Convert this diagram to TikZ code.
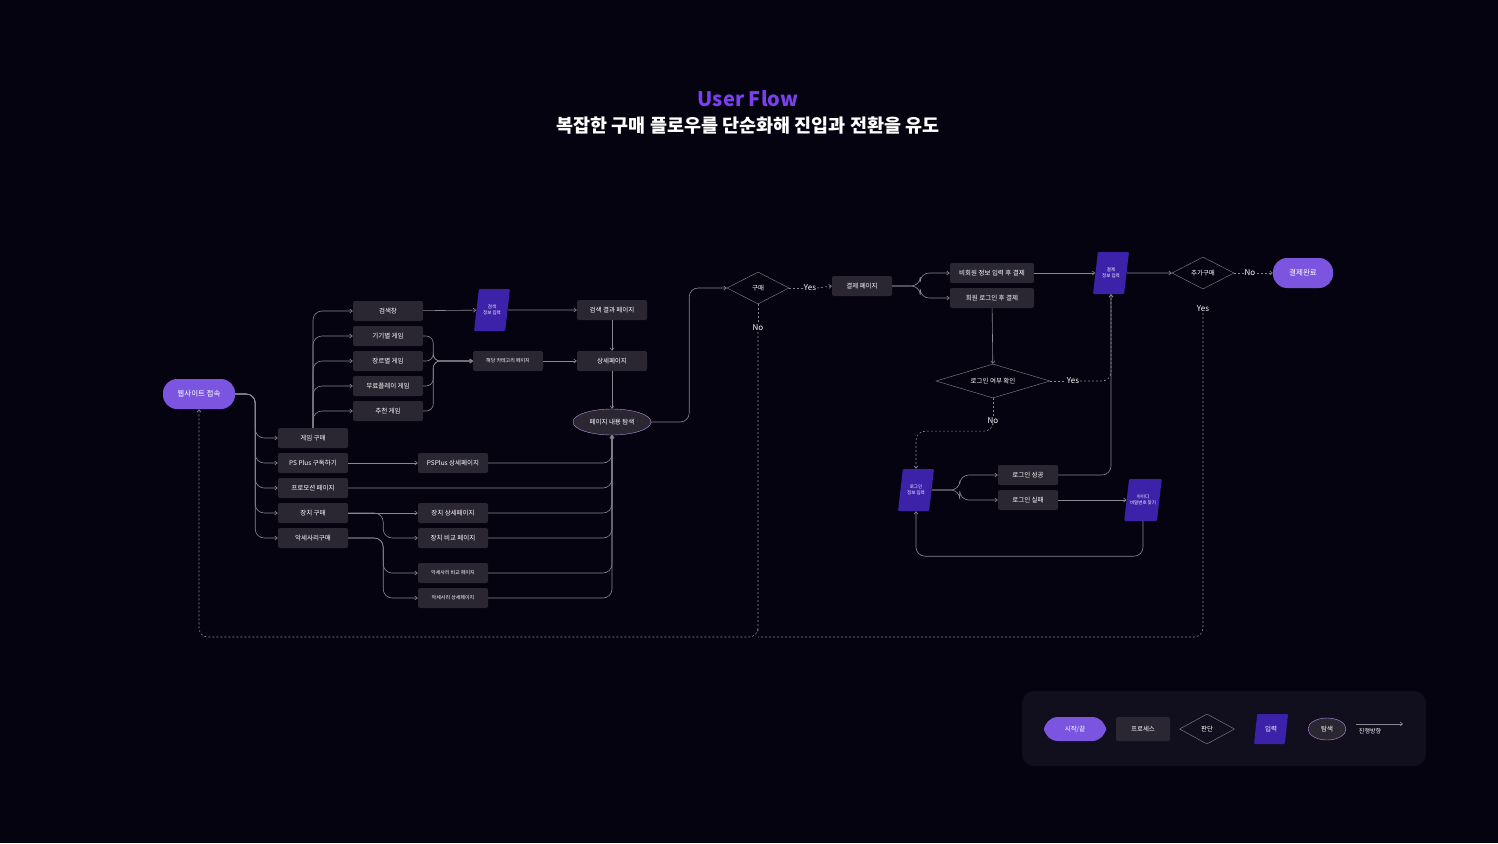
\documentclass[tikz,border=0pt]{standalone}
\usepackage{fontspec}
\setmainfont{Noto Sans CJK KR}
\usetikzlibrary{shapes.geometric,arrows.meta,calc}
\definecolor{bg}{HTML}{05030F}
\definecolor{boxc}{HTML}{2A2733}
\definecolor{startc}{HTML}{7B55E0}
\definecolor{parac}{HTML}{3B22A8}
\definecolor{ellc}{HTML}{B78FE0}
\definecolor{linec}{HTML}{8A8790}
\definecolor{titlec}{HTML}{7B3FF0}
\definecolor{legc}{HTML}{110F1D}
\begin{document}
\begin{tikzpicture}[x=1pt,y=-1pt,
  every node/.style={text=white,font=\fontsize{6.5}{8}\selectfont,inner sep=1pt},
  proc/.style={fill=boxc,rounded corners=2pt,minimum width=70pt,minimum height=20pt},
  startn/.style={fill=startc,rounded corners=14pt,minimum width=72pt,minimum height=30pt,font=\fontsize{7.5}{9}\selectfont},
  para/.style={trapezium,trapezium left angle=68,trapezium right angle=112,fill=parac,minimum width=36pt,minimum height=42pt,trapezium stretches body,font=\fontsize{4.5}{6}\selectfont,align=center,rounded corners=1pt},
  dec/.style={diamond,draw=linec,aspect=2,inner sep=0pt},
  expl/.style={ellipse,draw=ellc,fill=boxc,minimum width=78pt,minimum height=26pt,inner sep=0pt},
  lbl/.style={font=\fontsize{8}{9}\selectfont},
  arr/.style={draw=linec,line width=0.6pt,-{Straight Barb[length=2.5pt,width=4pt]},rounded corners=9pt},
  ln/.style={draw=linec,line width=0.6pt,rounded corners=9pt},
  dsh/.style={draw=linec,line width=0.6pt,dash pattern=on 2pt off 2pt,rounded corners=9pt},
  darr/.style={dsh,-{Straight Barb[length=2.5pt,width=4pt]}}]
\fill[bg] (0,0) rectangle (1498,843);
\useasboundingbox (0,0) rectangle (1498,843);
\node[font=\bfseries\fontsize{20}{22}\selectfont,text=titlec] (t1) at (748,99) {User Flow};
\node[font=\bfseries\fontsize{18.5}{22}\selectfont] (t2) at (748,126) {복잡한 구매 플로우를 단순화해 진입과 전환을 유도};
% left
\node[startn] (web) at (199,394) {웹사이트 접속};
\node[proc] (g1) at (313,438) {게임 구매};
\node[proc] (g2) at (313,463) {PS Plus 구독하기};
\node[proc] (g3) at (313,488) {프로모션 페이지};
\node[proc] (g4) at (313,513) {장치 구매};
\node[proc] (g5) at (313,538) {악세사리구매};
\node[proc] (s1) at (388,311) {검색창};
\node[proc] (s2) at (388,336) {기기별 게임};
\node[proc] (s3) at (388,361) {장르별 게임};
\node[proc] (s4) at (388,386) {무료플레이 게임};
\node[proc] (s5) at (388,411) {추천 게임};
\node[para] (si) at (492,310) {검색\\정보 입력};
\node[proc] (sr) at (612,310) {검색 결과 페이지};
\node[proc,font=\fontsize{5}{6}\selectfont] (cat) at (508,361) {해당 카테고리 페이지};
\node[proc] (det) at (612,361) {상세페이지};
\node[expl] (ex) at (612,422) {페이지 내용 탐색};
\node[proc] (p1) at (453,463) {PSPlus 상세페이지};
\node[proc] (d1) at (453,513) {장치 상세페이지};
\node[proc] (d2) at (453,538) {장치 비교 페이지};
\node[proc,font=\fontsize{5}{6}\selectfont] (a1) at (453,573) {악세사리 비교 페이지};
\node[proc,font=\fontsize{5}{6}\selectfont] (a2) at (453,598) {악세사리 상세페이지};
% right
\node[dec,minimum width=62pt,minimum height=32pt] (buy) at (758,288) {구매};
\node[lbl] (yes1) at (810,288) {Yes};
\node[lbl] (no1) at (758,328) {No};
\node[proc,minimum width=60pt] (pay) at (862,286) {결제 페이지};
\node[proc,minimum width=84pt] (m1) at (992,273) {비회원 정보 입력 후 결제};
\node[proc,minimum width=84pt] (m2) at (992,298) {회원 로그인 후 결제};
\node[para] (pi) at (1111,273) {결제\\정보 입력};
\node[dec,minimum width=62pt,minimum height=32pt] (more) at (1203,273) {추가구매};
\node[lbl] (no3) at (1250,273) {No};
\node[lbl] (yes3) at (1203,309) {Yes};
\node[startn,minimum width=60pt] (done) at (1303,273) {결제완료};
\node[dec,minimum width=114pt,minimum height=34pt] (lg) at (993,381) {로그인 여부 확인};
\node[lbl] (yes2) at (1073,381) {Yes};
\node[lbl] (no2) at (993,421) {No};
\node[para] (lp) at (916,490) {로그인\\정보 입력};
\node[proc,minimum width=60pt] (ls) at (1028,475) {로그인 성공};
\node[proc,minimum width=60pt] (lf) at (1028,500) {로그인 실패};
\node[para] (fd) at (1143,500) {아이디\\비밀번호 찾기};
\coordinate (loopy) at (0,637);
% connectors left
\foreach \n in {g1,g2,g3,g4,g5} \draw[arr] (web.east) -- ++(20,0) |- (\n.west);
\foreach \n in {s1,s2,s3,s4,s5} \draw[arr] (g1.north) |- (\n.west);
\foreach \n in {s2,s3,s4,s5} \draw[arr,rounded corners=7pt] (\n.east) -- ++(10,0) |- (cat.west);
\draw[arr] (s1) -- (si);
\draw[arr] (si) -- (sr);
\draw[arr] (sr) -- (det);
\draw[arr] (cat) -- (det);
\draw[arr] (det) -- (ex);
\foreach \n in {p1,g3,d1,d2,a1,a2} \draw[arr] (\n.east) -| (ex.south);
\draw[arr] (g2) -- (p1);
\draw[arr] (g4) -- (d1);
\draw[arr] (g4.east) -- ++(35,0) |- (d2.west);
\draw[arr] (g5.east) -- ++(35,0) |- (a1.west);
\draw[arr] (g5.east) -- ++(35,0) |- (a2.west);
\draw[arr] (ex.east) -- ++(38,0) |- (buy.west);
% connectors right
\draw[dsh] (buy.east) -- (yes1.west);
\draw[darr] (yes1.east) -- (pay.west);
\draw[arr] (pay.east) -- ++(28,0) |- (m1.west);
\draw[arr] (pay.east) -- ++(28,0) |- (m2.west);
\draw[arr] (m1) -- (pi);
\draw[arr] (pi) -- (more);
\draw[dsh] (more.east) -- (no3.west);
\draw[darr] (no3.east) -- (done.west);
\draw[arr] (m2) -- (lg);
\draw[dsh] (lg.east) -- (yes2.west);
\draw[darr] (yes2.east) -| (pi.south);
\draw[dsh] (lg.south) -- (no2.north);
\draw[darr] (no2.south) -- ++(0,6) -| (lp.north);
\draw[arr] (lp.east) -- ++(28,0) |- (ls.west);
\draw[arr] (lp.east) -- ++(28,0) |- (lf.west);
\draw[arr] (ls.east) -| (pi.south);
\draw[arr] (lf) -- (fd);
\draw[arr] (fd.south) -- ++(0,35) -| (lp.south);
\draw[dsh] (buy.south) -- (no1.north);
\draw[darr] (no1.south) |- (loopy -| no1) -| (web.south);
\draw[dsh] (yes3.south) |- (loopy -| no1);
% legend
\fill[legc,rounded corners=12pt] (1022,691) rectangle (1426,766);
\node[startn,minimum width=62pt,minimum height=24pt,font=\fontsize{6.5}{8}\selectfont] (lg1) at (1075,729) {시작/끝};
\node[proc,minimum width=54pt,minimum height=24pt] (lg2) at (1143,729) {프로세스};
\node[dec,minimum width=55pt,minimum height=30pt] (lg3) at (1207,729) {판단};
\node[para,minimum height=30pt,minimum width=34pt,font=\fontsize{6.5}{8}\selectfont] (lg4) at (1271,729) {입력};
\node[expl,minimum width=38pt,minimum height=22pt] (lg5) at (1327,729) {탐색};
\coordinate (la) at (1356,724);
\coordinate (lb) at (1403,724);
\draw[arr] (la) -- (lb);
\node[font=\fontsize{6}{7}\selectfont] (lg6) at (1370,731) {진행방향};
\end{tikzpicture}
\end{document}
